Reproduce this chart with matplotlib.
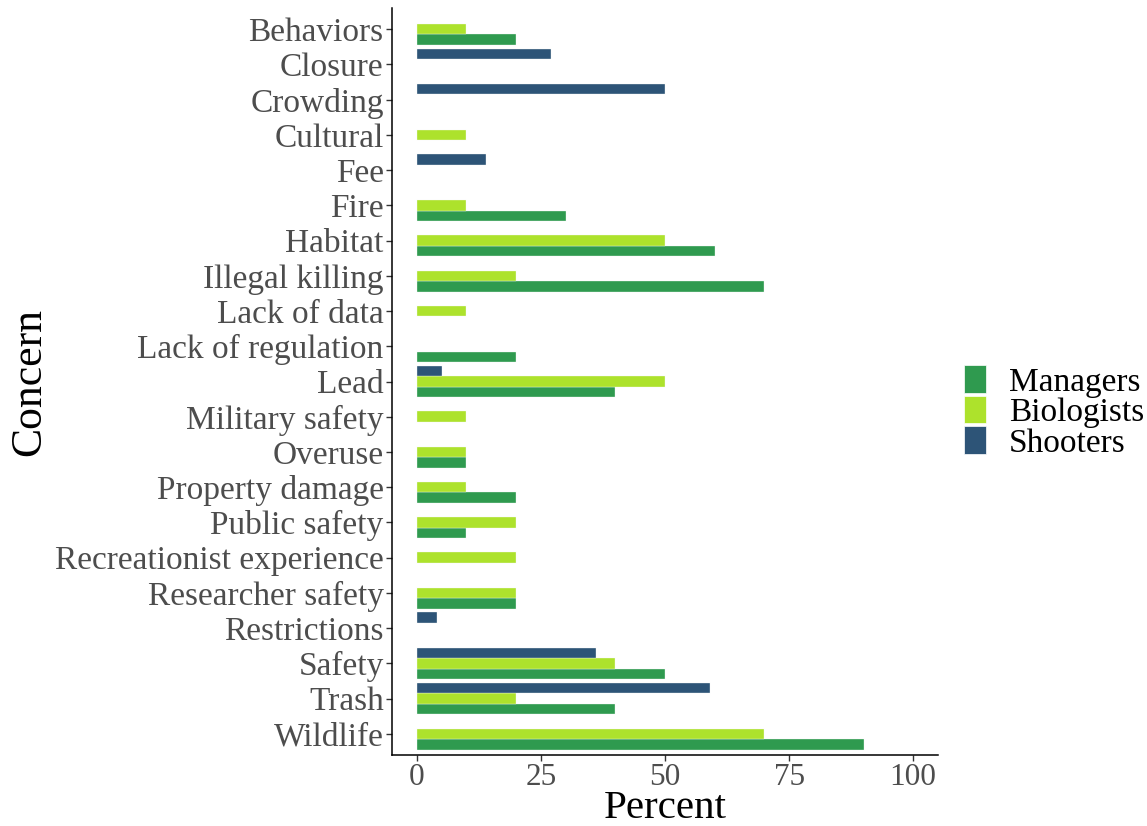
import numpy as np
import matplotlib
matplotlib.use("Agg")
import matplotlib.pyplot as plt
from matplotlib.patches import Patch

plt.rcParams['font.family'] = ['Liberation Serif', 'DejaVu Serif']

concerns = ["Behaviors", "Closure", "Crowding", "Cultural", "Fee", "Fire", "Habitat",
            "Illegal killing", "Lack of data", "Lack of regulation", "Lead",
            "Military safety", "Overuse", "Property damage", "Public safety",
            "Recreationist experience", "Researcher safety", "Restrictions",
            "Safety", "Trash", "Wildlife"]

groups = ["Managers", "Biologists", "Shooters"]

managers = [20, 0, 0, 0, 0, 30, 60, 70, 0, 20, 40, 0, 10, 20, 10, 0, 20, 0, 50, 40, 90]
biologists = [10, 0, 0, 10, 0, 10, 50, 20, 10, 0, 50, 10, 10, 10, 20, 20, 20, 0, 40, 20, 70]
shooters = [0, 27, 50, 0, 14, 0, 0, 0, 0, 0, 5, 0, 0, 0, 0, 0, 0, 4, 36, 59, 0]

colors = {"Managers": "#2f9a4f", "Biologists": "#ade22c", "Shooters": "#2d5477"}

x_ticks = [0, 25, 50, 75, 100]

fig = plt.figure(figsize=(11.47, 8.26), dpi=100)
ax = fig.add_axes([392 / 1147, 1 - 755 / 826, (938 - 392) / 1147, (755 - 8) / 826])

n = len(concerns)
pos = np.arange(n)[::-1]  # first concern at the top
bar_h = 0.3
offsets = {"Managers": -bar_h, "Biologists": 0.0, "Shooters": bar_h}
series = {"Managers": managers, "Biologists": biologists, "Shooters": shooters}

for g in groups:
    vals = np.array(series[g], dtype=float)
    mask = vals > 0
    ax.barh(pos[mask] + offsets[g], vals[mask], height=bar_h, color=colors[g],
            edgecolor="#f4f8f4", linewidth=0.25)

ax.set_xlim(-5, 105)
ax.set_ylim(-0.6, n - 0.4)
ax.set_yticks(pos)
ax.set_yticklabels(concerns)
ax.set_xticks(x_ticks)
ax.set_xticklabels([str(v) for v in x_ticks])

for s in ["top", "right"]:
    ax.spines[s].set_visible(False)
for s in ["left", "bottom"]:
    ax.spines[s].set_color("black")
    ax.spines[s].set_linewidth(1.1)

ax.tick_params(axis="both", colors="#333333", length=4, width=1.0,
               labelcolor="#4d4d4d", pad=2)
ax.tick_params(axis="y", labelsize=24)
ax.tick_params(axis="x", labelsize=22.5)

ax.set_xlabel("Percent", fontsize=29.5, labelpad=-2)
ax.set_ylabel("Concern", fontsize=31.5, labelpad=4)

handles = [Patch(facecolor=colors[g], edgecolor="white", linewidth=0.5, label=g) for g in groups]
fig.legend(handles=handles, loc="center left", bbox_to_anchor=(964 / 1147, 1 - 412 / 826),
           frameon=False, fontsize=24, handlelength=0.67, handleheight=0.88,
           labelspacing=-0.05, handletextpad=0.67, borderpad=0.0, borderaxespad=0.0)

fig.savefig("out.png", dpi=100)
